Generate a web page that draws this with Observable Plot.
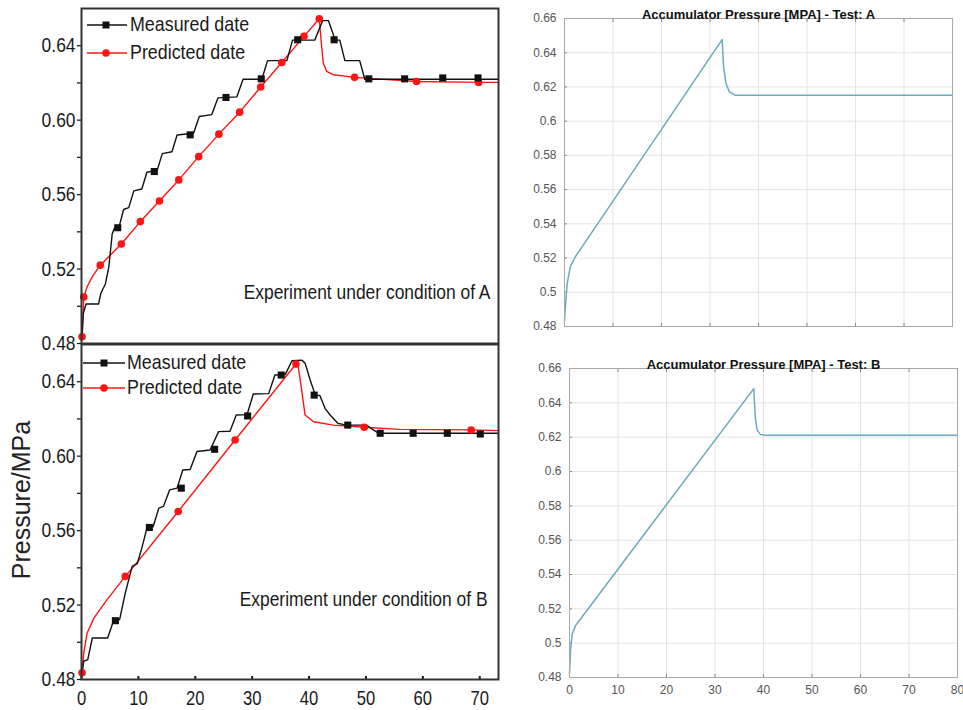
<!DOCTYPE html>
<html>
<head>
<meta charset="utf-8">
<script src="https://cdn.jsdelivr.net/npm/d3@7"></script>
<script src="https://cdn.jsdelivr.net/npm/@observablehq/plot@0.6"></script>
<style>
  html, body { margin: 0; padding: 0; background: #fff; }
  #wrap { position: relative; width: 963px; height: 710px; overflow: hidden; background: #fff; }
  #wrap > svg { position: absolute; }
  .legend { position: absolute; font-family: 'Liberation Sans Narrow', 'Arial Narrow', 'Liberation Sans', Arial, sans-serif; font-size: 21px; color: #1a1a1a; }
  .ylab { position: absolute; font-family: 'Liberation Sans', Arial, sans-serif; font-size: 25px; color: #222; white-space: nowrap; transform: translate(-50%, -50%) rotate(-90deg); }
</style>
</head>
<body>
<div id="wrap"></div>
<script>
// ---------- tick values ----------
const xTicksLeft = [0, 10, 20, 30, 40, 50, 60, 70];
const yTicksLeft = [0.48, 0.52, 0.56, 0.60, 0.64];
const yMinorLeft = [0.50, 0.54, 0.58, 0.62];
const xTicksRight = [0, 10, 20, 30, 40, 50, 60, 70, 80];
const yTicksRight = [0.48, 0.5, 0.52, 0.54, 0.56, 0.58, 0.6, 0.62, 0.64, 0.66];

// ---------- text ----------
const seriesNames = ["Measured date", "Predicted date"];
const panelNotes = ["Experiment under condition of A", "Experiment under condition of B"];
const rightTitles = ["Accumulator Pressure [MPA] - Test: A", "Accumulator Pressure [MPA] - Test: B"];
const yAxisLabel = "Pressure/MPa";

// ---------- Condition A : measured (black) ----------
const measA_t = [0.1, 0.3, 0.8, 3.0, 3.4, 4.2, 4.8, 5.4, 5.8, 6.6, 7.4, 8.3, 9.2, 10.6, 11.5, 13.3, 14.2, 15.9, 16.8, 19.7, 20.7, 22.9, 24.0, 27.3, 28.4, 31.7, 32.7, 36.1, 37.1, 41.0, 42.4, 43.4, 44.6, 45.4, 46.3, 48.9, 49.8, 73.3];
const measA_v = [0.483, 0.496, 0.5012, 0.5012, 0.507, 0.512, 0.521, 0.539, 0.542, 0.5425, 0.552, 0.553, 0.562, 0.563, 0.572, 0.573, 0.582, 0.583, 0.592, 0.593, 0.602, 0.603, 0.612, 0.6125, 0.622, 0.622, 0.632, 0.632, 0.643, 0.643, 0.6535, 0.6535, 0.643, 0.643, 0.632, 0.632, 0.622, 0.622];
const measA_mark_t = [6.37, 12.8, 19.1, 25.4, 31.6, 38.0, 44.4, 50.5, 56.8, 63.5, 69.7];
const measA_mark_v = [0.5422, 0.5724, 0.5921, 0.6122, 0.6222, 0.6432, 0.6432, 0.6222, 0.6222, 0.6227, 0.6227];

// ---------- Condition A : predicted (red) ----------
const predA_t = [0.1, 0.4, 1.0, 1.9, 3.3, 7.0, 10.35, 13.7, 17.1, 20.6, 24.15, 27.8, 31.5, 35.2, 39.1, 41.8, 42.2, 42.5, 43.1, 44.3, 48.0, 58.9, 69.8, 73.3];
const predA_v = [0.4836, 0.505, 0.5105, 0.5159, 0.5221, 0.5335, 0.5455, 0.5566, 0.5679, 0.5804, 0.5925, 0.6043, 0.6178, 0.631, 0.645, 0.6545, 0.640, 0.6307, 0.6262, 0.6244, 0.623, 0.6208, 0.6203, 0.6203];
const predA_mark_t = [0.1, 0.4, 3.3, 7.0, 10.35, 13.7, 17.1, 20.6, 24.15, 27.8, 31.5, 35.2, 39.1, 41.8, 48.0, 58.9, 69.8];
const predA_mark_v = [0.4836, 0.505, 0.5221, 0.5335, 0.5455, 0.5566, 0.5679, 0.5804, 0.5925, 0.6043, 0.6178, 0.631, 0.645, 0.6545, 0.623, 0.6208, 0.6203];

// ---------- Condition B : measured (black) ----------
const measB_t = [0.1, 0.4, 1.1, 1.9, 4.6, 5.6, 6.7, 7.7, 8.9, 9.8, 10.6, 11.5, 12.6, 13.6, 14.4, 15.5, 16.8, 17.8, 19.1, 20.3, 22.6, 24.1, 26.1, 27.2, 29.1, 30.2, 32.9, 34.0, 35.8, 37.0, 38.7, 39.3, 40.2, 41.1, 41.9, 42.8, 43.7, 45.1, 46.6, 50.1, 51.3, 52.2, 73.3];
const measB_v = [0.4836, 0.4898, 0.4907, 0.5023, 0.5023, 0.5113, 0.5122, 0.5265, 0.5408, 0.5422, 0.5506, 0.5613, 0.5622, 0.5721, 0.573, 0.5819, 0.5828, 0.5926, 0.5928, 0.6025, 0.6033, 0.6132, 0.6134, 0.6221, 0.6223, 0.6334, 0.6336, 0.6436, 0.6438, 0.6513, 0.6516, 0.650, 0.6409, 0.6328, 0.6326, 0.6257, 0.6221, 0.6176, 0.6167, 0.6167, 0.6141, 0.6123, 0.6123];
const measB_mark_t = [5.96, 11.93, 17.54, 23.4, 29.2, 35.1, 40.9, 46.8, 52.5, 58.3, 64.3, 70.1];
const measB_mark_v = [0.5116, 0.5617, 0.5828, 0.6037, 0.6216, 0.6436, 0.6328, 0.6167, 0.6123, 0.6123, 0.6123, 0.6119];

// ---------- Condition B : predicted (red) ----------
const predB_t = [0.1, 0.4, 1.0, 2.2, 4.5, 7.7, 9.2, 17.0, 27.0, 37.7, 38.0, 38.7, 39.3, 40.8, 44.3, 49.7, 56.0, 68.5, 73.3];
const predB_v = [0.4836, 0.4943, 0.505, 0.5131, 0.5229, 0.5354, 0.5408, 0.5703, 0.6087, 0.6495, 0.6502, 0.6355, 0.6221, 0.6185, 0.6167, 0.6155, 0.6144, 0.6141, 0.6137];
const predB_mark_t = [0.1, 7.7, 17.0, 27.0, 37.7, 49.7, 68.5];
const predB_mark_v = [0.4836, 0.5354, 0.5703, 0.6087, 0.6495, 0.6155, 0.6141];

// ---------- Simulation (right panels) ----------
const simA_t = [0, 0.28, 0.55, 1.17, 2.2, 3.58, 32.5, 32.8, 33.3, 34.0, 35.25, 80];
const simA_v = [0.4835, 0.4952, 0.505, 0.5147, 0.5206, 0.5264, 0.6477, 0.6317, 0.622, 0.6171, 0.6151, 0.6151];
const simB_t = [0, 0.2, 0.55, 1.24, 2.27, 38.0, 38.3, 38.7, 39.4, 40.4, 80];
const simB_v = [0.482, 0.4956, 0.5053, 0.5102, 0.5141, 0.6483, 0.6318, 0.624, 0.6215, 0.6211, 0.6211];

// ---------- helpers ----------
const zip = (t, v) => t.map((x, i) => ({t: x, v: v[i]}));
const NARROW = "'Liberation Sans Narrow', 'Arial Narrow', 'Liberation Sans', Arial, sans-serif";
const SANS = "'Liberation Sans', Arial, sans-serif";
const RED = "#ff1414";
const BLACK = "#111";
const SQUEEZE = 0.83; // condensed look of the original lettering
const wrap = document.getElementById("wrap");

function place(el, left, top) {
  el.style.left = left + "px";
  el.style.top = top + "px";
  wrap.appendChild(el);
}

function squeezeTexts(svg, k) {
  svg.querySelectorAll("text").forEach(t => {
    const tr = t.getAttribute("transform") || "";
    t.setAttribute("transform", (tr + ` scale(${k},1)`).trim());
  });
  return svg;
}

function leftPanel({meas, pred, measMk, predMk, note, showX, height, marginTop, marginBottom, noteDx, noteDy}) {
  return squeezeTexts(Plot.plot({
    width: 502, height, marginLeft: 81, marginRight: 4, marginTop, marginBottom,
    x: {domain: [0, 73.3], axis: null},
    y: {domain: [0.48, 0.66], axis: null},
    style: {background: "transparent", overflow: "visible", fontFamily: NARROW, fontSize: "21px", color: "#1a1a1a"},
    marks: [
      Plot.axisY(yMinorLeft, {tickSize: 4, text: null, label: null, strokeWidth: 1.3}),
      Plot.axisY(yTicksLeft, {tickSize: 4, tickPadding: 2, tickFormat: d3.format(".2f"), label: null, strokeWidth: 1.3}),
      showX ? Plot.axisX(xTicksLeft, {tickSize: -3, text: null, label: null, strokeWidth: 2}) : null,
      showX ? Plot.axisX(xTicksLeft, {tickSize: 0, tickPadding: 11, fontSize: 20, label: null}) : null,
      Plot.line(zip(pred.t, pred.v), {x: "t", y: "v", stroke: RED, strokeWidth: 1.4}),
      Plot.line(zip(meas.t, meas.v), {x: "t", y: "v", stroke: BLACK, strokeWidth: 1.4}),
      Plot.dot(zip(predMk.t, predMk.v), {x: "t", y: "v", r: 3.8, fill: RED, stroke: "none"}),
      Plot.dot(zip(measMk.t, measMk.v), {x: "t", y: "v", r: 4, symbol: "square", fill: BLACK, stroke: "none"}),
      Plot.frame({stroke: "#333", strokeWidth: 2}),
      Plot.text([note], {frameAnchor: "bottom-right", textAnchor: "end", dx: noteDx, dy: noteDy, fill: "#1a1a1a"})
    ]
  }), SQUEEZE);
}

function rightPanel({sim, title, showX, height, marginLeft, marginRight, marginTop, marginBottom}) {
  return Plot.plot({
    width: 458, height, marginLeft, marginRight, marginTop, marginBottom,
    x: {domain: [0, 80], axis: null},
    y: {domain: [0.48, 0.66], axis: null},
    style: {background: "transparent", overflow: "visible", fontFamily: SANS, fontSize: "12px", color: "#555"},
    marks: [
      Plot.gridX(xTicksRight, {stroke: "#e4e4e4", strokeOpacity: 1}),
      Plot.gridY(yTicksRight, {stroke: "#e4e4e4", strokeOpacity: 1}),
      Plot.axisY(yTicksRight, {tickSize: -3, text: null, label: null, stroke: "#888"}),
      Plot.axisY(yTicksRight, {tickSize: 0, tickPadding: 8, tickFormat: d => String(d), label: null}),
      Plot.axisX(xTicksRight, {tickSize: -3, text: null, label: null, stroke: "#888"}),
      Plot.axisX(xTicksRight, {anchor: "top", tickSize: -3, text: null, label: null, stroke: "#888"}),
      showX ? Plot.axisX(xTicksRight, {tickSize: 0, tickPadding: 8, label: null}) : null,
      Plot.line(zip(sim.t, sim.v), {x: "t", y: "v", stroke: "#6aaabd", strokeWidth: 1.5}),
      Plot.frame({stroke: "#a8a8a8"}),
      Plot.text([title], {frameAnchor: "top", dy: -9, fontWeight: "bold", fontSize: 13, fill: "#111"})
    ]
  });
}

// ---------- left panels ----------
place(leftPanel({
  meas: {t: measA_t, v: measA_v}, pred: {t: predA_t, v: predA_v},
  measMk: {t: measA_mark_t, v: measA_mark_v}, predMk: {t: predA_mark_t, v: predA_mark_v},
  note: panelNotes[0], showX: false, height: 346, marginTop: 8, marginBottom: 3, noteDx: -8, noteDy: -45
}), 0, 0);

place(leftPanel({
  meas: {t: measB_t, v: measB_v}, pred: {t: predB_t, v: predB_v},
  measMk: {t: measB_mark_t, v: measB_mark_v}, predMk: {t: predB_mark_t, v: predB_mark_v},
  note: panelNotes[1], showX: true, height: 370, marginTop: 4, marginBottom: 31, noteDx: -11, noteDy: -74
}), 0, 340);

// ---------- right panels ----------
place(rightPanel({sim: {t: simA_t, v: simA_v}, title: rightTitles[0], showX: false, height: 340,
  marginLeft: 59, marginRight: 11, marginTop: 18, marginBottom: 14}), 505, 0);
place(rightPanel({sim: {t: simB_t, v: simB_v}, title: rightTitles[1], showX: true, height: 370,
  marginLeft: 64, marginRight: 6, marginTop: 28, marginBottom: 33}), 505, 340);

// ---------- legends ----------
function legend(top, lineX0, lineX1, markX, textX) {
  const div = document.createElement("div");
  div.className = "legend";
  div.style.left = "0px"; div.style.top = "0px"; div.style.width = "500px"; div.style.height = "0px";
  const kinds = [{color: BLACK, shape: "square"}, {color: RED, shape: "circle"}];
  kinds.forEach((k, i) => {
    const y = top[i];
    const svg = d3.create("svg").attr("width", 140).attr("height", 20)
      .style("position", "absolute").style("left", "0px").style("top", (y - 10) + "px");
    svg.append("line").attr("x1", lineX0).attr("x2", lineX1).attr("y1", 10).attr("y2", 10)
      .attr("stroke", k.color).attr("stroke-width", 1.5);
    if (k.shape === "square") svg.append("rect").attr("x", markX - 3.5).attr("y", 6.5).attr("width", 7).attr("height", 7).attr("fill", k.color);
    else svg.append("circle").attr("cx", markX).attr("cy", 10).attr("r", 3.8).attr("fill", k.color);
    div.appendChild(svg.node());
    const span = document.createElement("span");
    span.textContent = seriesNames[i];
    span.style.position = "absolute"; span.style.left = textX + "px"; span.style.top = (y - 13) + "px";
    span.style.lineHeight = "24px"; span.style.whiteSpace = "nowrap";
    span.style.transform = `scaleX(${SQUEEZE + 0.02})`; span.style.transformOrigin = "0 50%";
    div.appendChild(span);
  });
  wrap.appendChild(div);
}
legend([25, 53], 87, 127, 106, 130);
legend([363, 388], 83, 125, 104, 127);

// ---------- y label ----------
const yl = document.createElement("div");
yl.className = "ylab";
yl.textContent = yAxisLabel;
yl.style.left = "21px"; yl.style.top = "500px";
wrap.appendChild(yl);
</script>
</body>
</html>
